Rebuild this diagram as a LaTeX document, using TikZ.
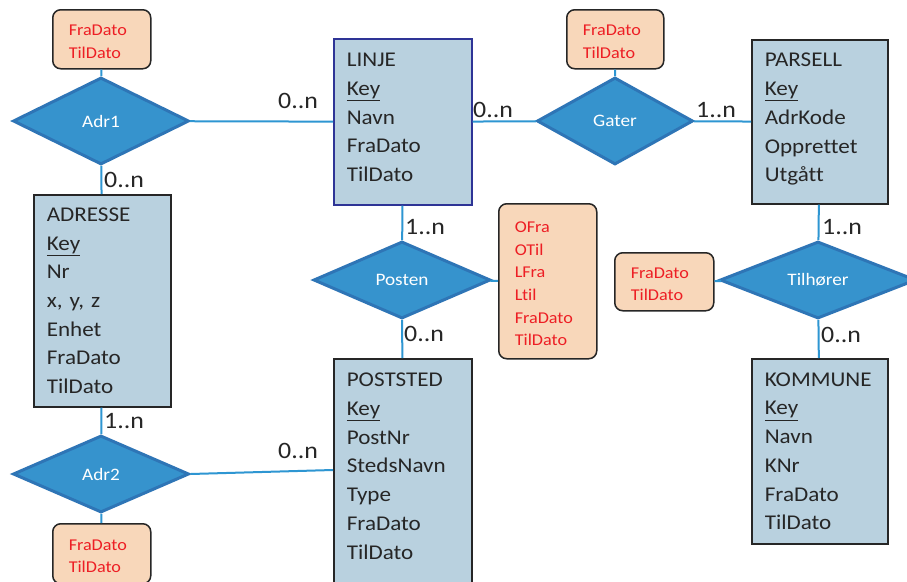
\documentclass[tikz,border=0pt]{standalone}
\usepackage{fontspec}
\setmainfont[FakeStretch=1.1,Ligatures=NoCommon]{Carlito}
\usetikzlibrary{shapes.geometric}
\definecolor{entfill}{RGB}{185,209,223}
\definecolor{dia}{RGB}{54,147,205}
\definecolor{diaborder}{RGB}{46,117,182}
\definecolor{attfill}{RGB}{248,215,186}
\definecolor{attred}{RGB}{237,30,36}
\definecolor{link}{RGB}{46,150,210}
\definecolor{linjeborder}{RGB}{46,52,150}
\definecolor{dark}{RGB}{38,38,38}
\begin{document}
\begin{tikzpicture}[x=1pt,y=-1pt,
 entity/.style={draw=dark,line width=1.6pt,fill=entfill,anchor=north west,inner xsep=13pt,inner ysep=0pt,align=left,font=\fontsize{21}{28.7}\selectfont,text=black!85},
 rel/.style={diamond,draw=diaborder,line width=3pt,fill=dia,inner sep=0pt,text=white,font=\fontsize{17.5}{22}\selectfont},
 attr/.style={draw=dark,line width=1.5pt,fill=attfill,rounded corners=8pt,anchor=north west,inner xsep=16pt,inner ysep=0pt,align=left,text=attred,font=\fontsize{16.5}{22.7}\selectfont},
 conn/.style={draw=link,line width=2pt},
 card/.style={anchor=west,inner sep=0pt,font=\fontsize{23.5}{28}\selectfont,text=black!85}]
\clip (0,0) rectangle (907,581);
\fill[white] (0,0) rectangle (907,581);

% entities
\node[entity,draw=linjeborder,text width=112pt,minimum height=166pt] (linje) at (333,38)
  {LINJE\\\underline{Key}\\Navn\\FraDato\\TilDato\strut};
\node[entity,text width=110pt,minimum height=164pt] (parsell) at (751,39)
  {PARSELL\\\underline{Key}\\AdrKode\\Opprettet\\Utgått\strut};
\node[entity,text width=111pt,minimum height=212pt] (adresse) at (33,194)
  {ADRESSE\\\underline{Key}\\Nr\\x, y, z\\Enhet\\FraDato\\TilDato};
\node[entity,text width=112pt,minimum height=252pt] (poststed) at (333,358)
  {POSTSTED\\\underline{Key}\\PostNr\\StedsNavn\\Type\\FraDato\\TilDato\\\strut};
\node[entity,text width=110pt,minimum height=185pt] (kommune) at (751,358)
  {KOMMUNE\\\underline{Key}\\Navn\\KNr\\FraDato\\TilDato};

% relationships
\node[rel,minimum width=176pt,minimum height=87pt] (adr1) at (101,121) {Adr1};
\node[rel,minimum width=156pt,minimum height=87pt] (gater) at (615,121) {Gater};
\node[rel,minimum width=177pt,minimum height=77pt] (posten) at (402,280) {Posten};
\node[rel,minimum width=196pt,minimum height=77pt] (tilh) at (818,280) {Tilhører};
\node[rel,minimum width=176pt,minimum height=77pt] (adr2) at (101,474) {Adr2};

% attributes
\node[attr,text width=66pt,minimum height=59pt] (adr1att) at (52,9) {\strut FraDato\\TilDato};
\node[attr,text width=65pt,minimum height=59pt] (gateratt) at (566,9) {\strut FraDato\\TilDato};
\node[attr,text width=66pt,minimum height=155pt] (postenatt) at (498,203) {\strut OFra\\OTil\\LFra\\Ltil\\FraDato\\TilDato};
\node[attr,text width=67pt,minimum height=58pt] (tilatt) at (614,252) {\strut FraDato\\TilDato};
\node[attr,text width=66pt,minimum height=60pt] (adr2att) at (52,523) {\strut FraDato\\TilDato};

% connectors
\draw[conn] (adr1att) -- (adr1);
\draw[conn] (adr1) -- (linje);
\draw[conn] (adr1) -- (adresse);
\draw[conn] (linje) -- (gater);
\draw[conn] (gateratt) -- (gater);
\draw[conn] (gater) -- (parsell);
\draw[conn] (parsell) -- (tilh);
\draw[conn] (tilh) -- (kommune);
\draw[conn] (tilatt) -- (tilh);
\draw[conn] (linje) -- (posten);
\draw[conn] (posten) -- (poststed);
\draw[conn] (posten) -- (postenatt);
\draw[conn] (adresse) -- (adr2);
\draw[conn] (adr2.east) -- ([yshift=-112pt]poststed.north west);
\draw[conn] (adr2) -- (adr2att);

% cardinalities
\node[card] (c1) at (278,101) {0..n};
\node[card] (c2) at (104,180) {0..n};
\node[card] (c3) at (473,110) {0..n};
\node[card] (c4) at (696,110) {1..n};
\node[card] (c5) at (822,227) {1..n};
\node[card] (c6) at (821,335) {0..n};
\node[card] (c7) at (405,227) {1..n};
\node[card] (c8) at (404,334) {0..n};
\node[card] (c9) at (104,421) {1..n};
\node[card] (c10) at (278,451) {0..n};
\end{tikzpicture}
\end{document}
